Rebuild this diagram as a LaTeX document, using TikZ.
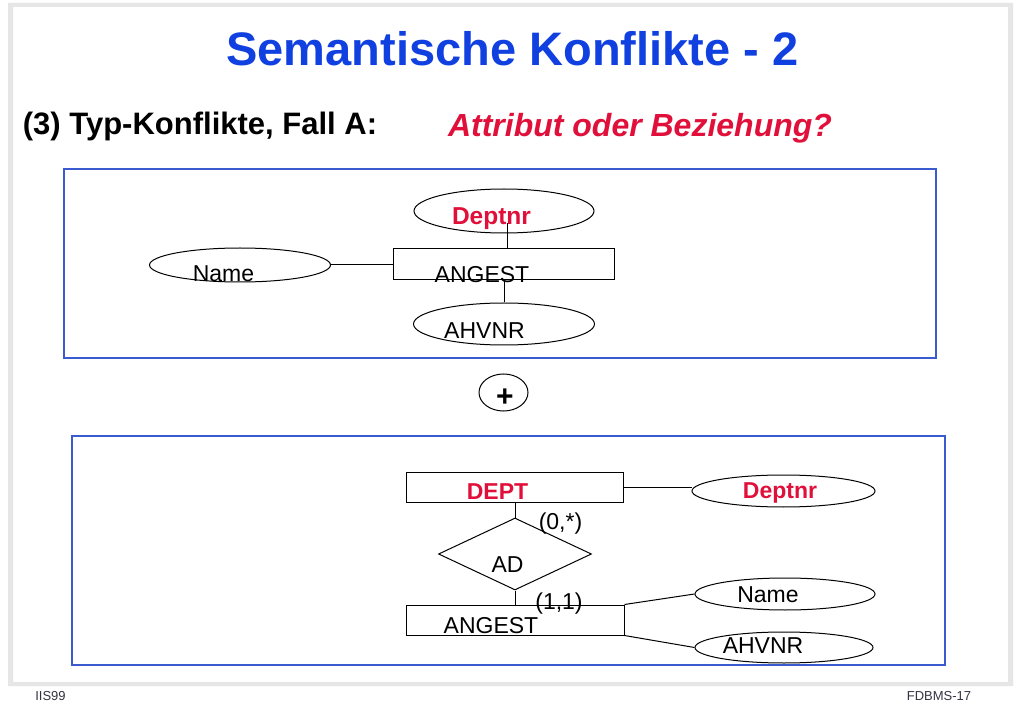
\documentclass[tikz,border=0pt]{standalone}
\usepackage{fontspec}
\setmainfont{Liberation Sans}
\usetikzlibrary{shapes.geometric}
\definecolor{titleblue}{HTML}{1040E0}
\definecolor{frameblue}{HTML}{3A5BD0}
\definecolor{redtxt}{HTML}{E0103A}
\definecolor{framegray}{HTML}{E6E6E6}
\definecolor{foot}{HTML}{333344}
\begin{document}
\begin{tikzpicture}[x=1pt,y=-1pt,
  ent/.style={draw, line width=1pt, inner sep=0pt},
  attr/.style={draw, ellipse, line width=1pt, inner sep=0pt},
  rel/.style={draw, diamond, line width=1pt, inner sep=0pt},
  panel/.style={draw=frameblue, line width=1.4pt, inner sep=0pt},
  lbl/.style={font=\fontsize{23}{23}\selectfont, anchor=base, inner sep=0pt},
  blbl/.style={font=\fontsize{23}{23}\selectfont\bfseries, text=redtxt, anchor=base, inner sep=0pt},
  conn/.style={line width=1pt},
  foottxt/.style={font=\fontsize{13}{13}\selectfont, text=foot, anchor=base, inner sep=0pt}]
\useasboundingbox (0,0) rectangle (1023,708);
\fill[white] (0,0) rectangle (1023,708);
\fill[framegray, even odd rule] (8,3) rectangle (1013,686) (13,7) rectangle (1008,682);

% titles
\node[font=\fontsize{47}{47}\selectfont\bfseries, text=titleblue, anchor=base, inner sep=0pt] (title) at (512.5,66) {Semantische Konflikte - 2};
\node[font=\fontsize{31}{31}\selectfont\bfseries, anchor=base, inner sep=0pt] (sub) at (200,135) {(3) Typ-Konflikte, Fall A:};
\node[font=\fontsize{32}{32}\selectfont\bfseries\itshape, text=redtxt, anchor=base, inner sep=0pt] (q) at (640,137) {Attribut oder Beziehung?};

% panels
\node[panel, minimum width=872pt, minimum height=189pt] (box1) at (500,263.5) {};
\node[panel, minimum width=873pt, minimum height=229pt] (box2) at (508.5,550.5) {};

% top diagram
\node[ent, minimum width=221pt, minimum height=31pt] (r1) at (503.5,264.5) {};
\node[attr, minimum width=180pt, minimum height=44pt] (d1) at (504,211) {};
\node[attr, minimum width=181pt, minimum height=34pt] (n1) at (240,265) {};
\node[attr, minimum width=181pt, minimum height=42pt] (a1) at (504,324) {};
\coordinate (d1in) at (507,223);
\draw[conn] (n1.east) -- (n1.east -| r1.west);
\draw[conn] (d1in) -- (d1in |- r1.north);
\draw[conn] (a1.north |- r1.south) -- (a1.north);
\node[blbl, font=\fontsize{24.5}{24.5}\selectfont\bfseries] (t-d1) at (491.5,225) {Deptnr};
\node[lbl] (t-n1) at (223.5,282) {Name};
\node[lbl] (t-r1) at (482,282.5) {ANGEST};
\node[lbl] (t-a1) at (484.5,338.5) {AHVNR};

% plus
\node[attr, minimum width=49pt, minimum height=37pt] (plus) at (503.5,392.5) {};
\node[font=\fontsize{30}{30}\selectfont\bfseries, anchor=center, inner sep=0pt] (t-plus) at (505,397.5) {+};

% bottom diagram
\node[ent, minimum width=217pt, minimum height=30pt] (dept) at (514.5,487) {};
\node[attr, minimum width=183pt, minimum height=32pt] (d2) at (783.5,491) {};
\node[rel, minimum width=153pt, minimum height=72pt] (ad) at (515,554) {};
\node[ent, minimum width=218pt, minimum height=30pt] (r2) at (515,620) {};
\node[attr, minimum width=180pt, minimum height=32pt] (n2) at (785,594) {};
\node[attr, minimum width=178pt, minimum height=31pt] (a2) at (784,647.5) {};
\draw[conn] (dept.east) -- (dept.east -| d2.west);
\draw[conn] (ad.north |- dept.south) -- (ad.north);
\draw[conn] (ad.south) -- (ad.south |- r2.north);
\draw[conn] (r2.north east) -- (n2.west);
\draw[conn] (r2.south east) -- (a2.west);
\node[blbl] (t-dept) at (497.5,499) {DEPT};
\node[blbl] (t-d2) at (780,498) {Deptnr};
\node[lbl] (t-card1) at (560.5,529) {(0,*)};
\node[lbl] (t-ad) at (507.5,572) {AD};
\node[lbl] (t-card2) at (559,609) {(1,1)};
\node[lbl] (t-r2) at (491,633) {ANGEST};
\node[lbl] (t-n2) at (768,602) {Name};
\node[lbl] (t-a2) at (763,653) {AHVNR};

% footer
\node[foottxt] (f1) at (50.5,700) {IIS99};
\node[foottxt] (f2) at (939,700) {FDBMS-17};
\end{tikzpicture}
\end{document}
